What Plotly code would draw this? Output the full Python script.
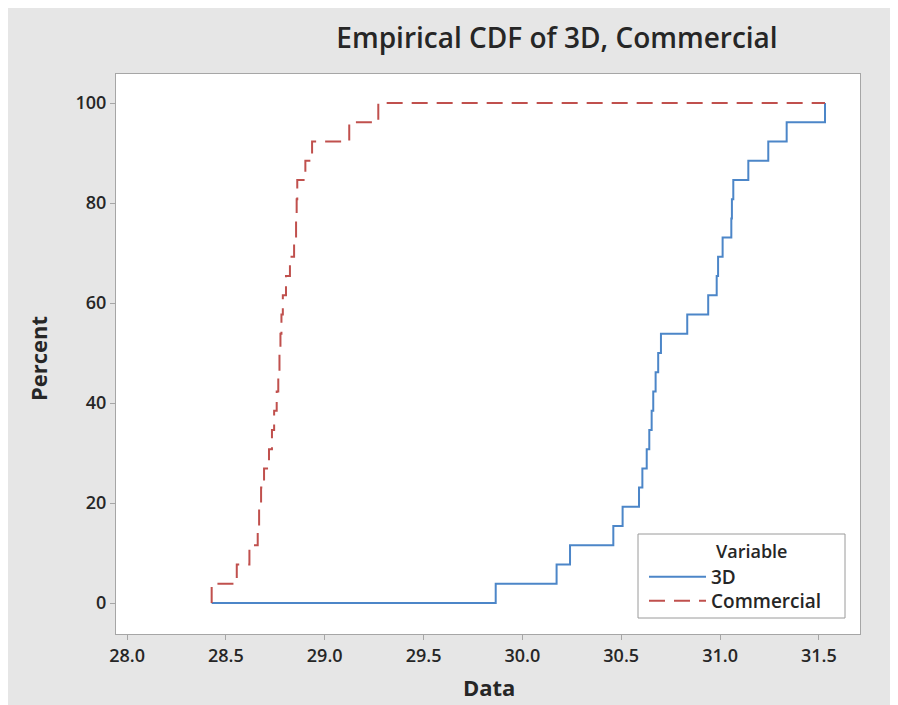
import plotly.graph_objects as go

data_3d = [29.865, 30.173, 30.241, 30.460, 30.507, 30.590, 30.607, 30.629, 30.642,
           30.654, 30.662, 30.674, 30.687, 30.701, 30.834, 30.940, 30.983, 30.990,
           31.013, 31.057, 31.060, 31.067, 31.143, 31.244, 31.337, 31.531]
data_commercial = [28.428, 28.555, 28.619, 28.661, 28.668, 28.678, 28.693, 28.718,
                   28.733, 28.744, 28.757, 28.765, 28.771, 28.776, 28.781, 28.788,
                   28.804, 28.824, 28.845, 28.855, 28.858, 28.861, 28.902, 28.936,
                   29.124, 29.271]
series_names = ["3D", "Commercial"]
x_ticks = [28.0, 28.5, 29.0, 29.5, 30.0, 30.5, 31.0, 31.5]
y_ticks = [0, 20, 40, 60, 80, 100]

lo = min(min(data_3d), min(data_commercial))
hi = max(max(data_3d), max(data_commercial))


def ecdf_xy(vals):
    v = sorted(vals)
    n = len(v)
    xs = [lo] + v + [hi]
    ys = [0.0] + [100.0 * (i + 1) / n for i in range(n)] + [100.0]
    return xs, ys


W, H = 885, 697
L, R, T, B = 108, 852, 66, 626

font_family = "Open Sans, Noto Sans, sans-serif"
text_col = "#262626"


def px_to_paper_x(px):
    return (px - L) / (R - L)


def px_to_paper_y(py):
    return (B - py) / (B - T)


fig = go.Figure()
styles = [dict(color="#4C86C8", width=2, dash="solid"),
          dict(color="#C0504D", width=2, dash="16px,9px")]
legend_ids = ["legend", "legend2"]
legend_centers = [569, 593]
for name, vals, st, lid in zip(series_names, [data_3d, data_commercial], styles, legend_ids):
    xs, ys = ecdf_xy(vals)
    fig.add_trace(go.Scatter(x=xs, y=ys, mode="lines", name=name, legend=lid,
                             line=dict(shape="hv", **st)))

fig.add_shape(type="rect", xref="paper", yref="paper",
              x0=px_to_paper_x(630), x1=px_to_paper_x(837),
              y0=px_to_paper_y(610), y1=px_to_paper_y(526),
              fillcolor="white", line=dict(color="#9A9A9A", width=1), layer="above")
fig.add_annotation(text="Variable", xref="paper", yref="paper",
                   x=px_to_paper_x(706), y=px_to_paper_y(543),
                   xanchor="left", yanchor="middle", showarrow=False,
                   font=dict(family=font_family, size=18, color=text_col, weight=600))
# axis titles
fig.add_annotation(text="Data", xref="paper", yref="paper",
                   x=px_to_paper_x(481), y=px_to_paper_y(679),
                   xanchor="center", yanchor="middle", showarrow=False,
                   font=dict(family=font_family, size=22, color=text_col, weight=700))
fig.add_annotation(text="Percent", xref="paper", yref="paper", textangle=-90,
                   x=px_to_paper_x(30), y=px_to_paper_y(351),
                   xanchor="center", yanchor="middle", showarrow=False,
                   font=dict(family=font_family, size=22, color=text_col, weight=700))

legend_common = dict(xanchor="left", yanchor="middle", bgcolor="rgba(0,0,0,0)",
                     borderwidth=0, itemwidth=57,
                     font=dict(family=font_family, size=19, color=text_col, weight=600))

fig.update_layout(
    width=W, height=H,
    margin=dict(l=L, r=W - R, t=T, b=H - B, pad=0, autoexpand=False),
    paper_bgcolor="#E6E6E6",
    plot_bgcolor="white",
    title=dict(text="Empirical CDF of 3D, Commercial", xref="container", yref="container",
               x=549 / W, y=1 - 30 / H, xanchor="center", yanchor="middle",
               font=dict(family=font_family, size=28, color=text_col, weight=600)),
    showlegend=True,
    legend=dict(x=px_to_paper_x(636), y=px_to_paper_y(legend_centers[0]), **legend_common),
    legend2=dict(x=px_to_paper_x(636), y=px_to_paper_y(legend_centers[1]), **legend_common),
    xaxis=dict(range=[27.944, 31.708], tickvals=x_ticks,
               ticktext=[f"{v:.1f}" for v in x_ticks],
               showgrid=False, zeroline=False, showline=True, mirror=True,
               linecolor="#A6A6A6", linewidth=1, ticks="outside", ticklen=5,
               tickcolor="#A6A6A6", automargin=False,
               tickfont=dict(family=font_family, size=18, color=text_col, weight=600)),
    yaxis=dict(range=[-6.2, 105.8], tickvals=y_ticks,
               showgrid=False, zeroline=False, showline=True, mirror=True,
               linecolor="#A6A6A6", linewidth=1, ticks="outside", ticklen=5,
               tickcolor="#A6A6A6", automargin=False,
               tickfont=dict(family=font_family, size=18, color=text_col, weight=600)),
)

fig.write_html("out.html")
